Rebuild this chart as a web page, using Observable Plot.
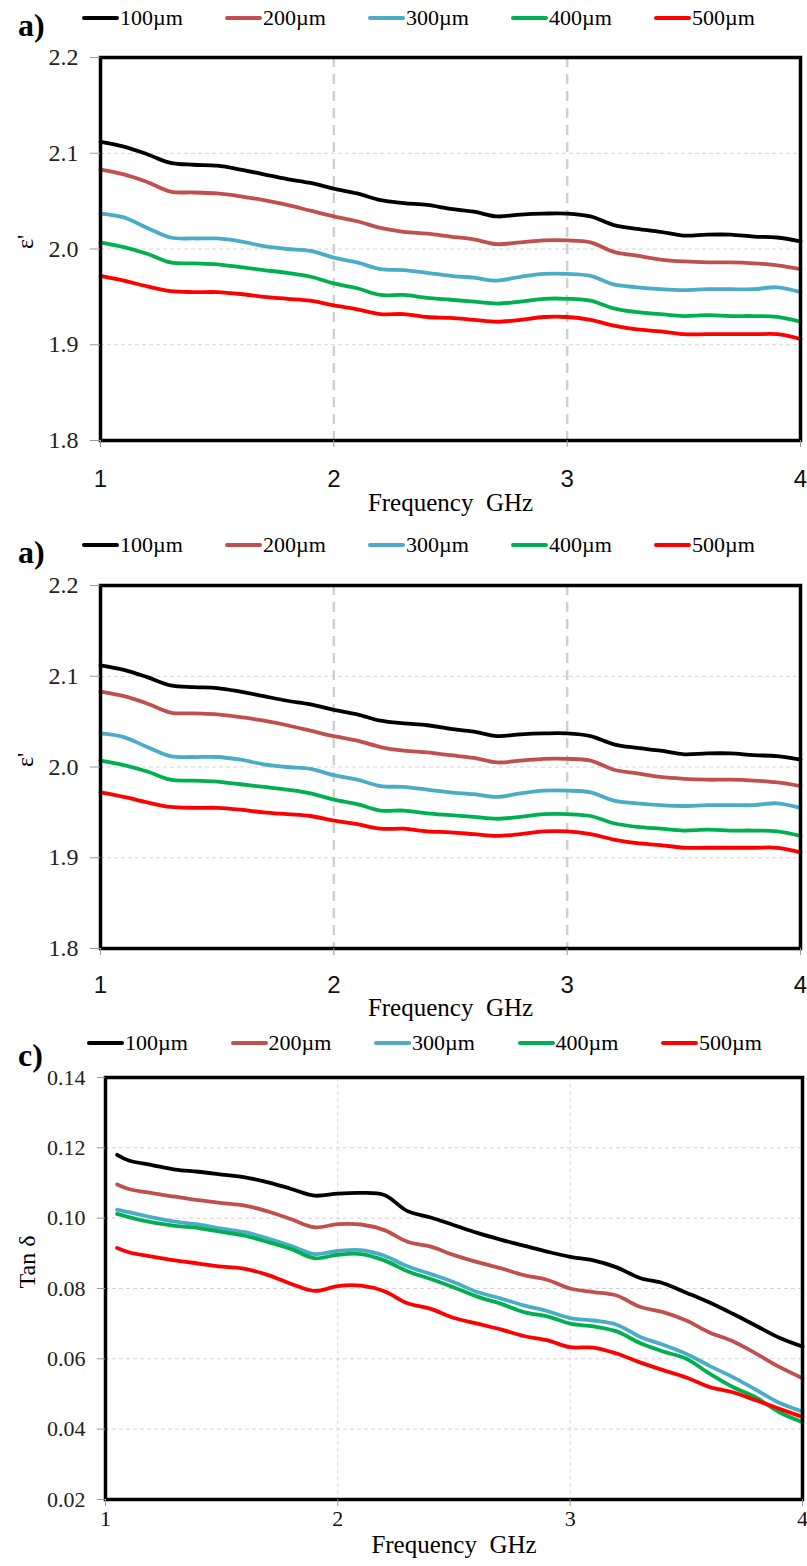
<!DOCTYPE html>
<html><head><meta charset="utf-8">
<script src="https://cdn.jsdelivr.net/npm/d3@7"></script>
<script src="https://cdn.jsdelivr.net/npm/@observablehq/plot@0.6"></script>
<style>
body{margin:0;background:#fff;}
#root{position:relative;width:807px;height:1566px;overflow:hidden;font-family:"Liberation Serif","Times New Roman",serif;color:#000;}
.sw{position:absolute;height:4px;width:37px;border-radius:2px;}
.lt{position:absolute;font-size:22px;line-height:26px;white-space:nowrap;}
.pl{position:absolute;font-size:32px;font-weight:bold;line-height:36px;}
</style>
</head><body><div id="root"></div>
<script>
// ---------- data ----------
const seriesNames = ["100µm","200µm","300µm","400µm","500µm"];
const seriesColors = ["#000000","#c0504d","#4bacc6","#00b050","#ff0000"];
const freqTicks = [1,2,3,4];
const epsTicks = [1.8,1.9,2.0,2.1,2.2];
const tanTicks = [0.02,0.04,0.06,0.08,0.10,0.12,0.14];

const freqA = [1.0,1.1,1.2,1.3,1.4,1.5,1.6,1.7,1.8,1.9,2.0,2.1,2.2,2.3,2.4,2.5,2.6,2.7,2.8,2.9,3.0,3.1,3.2,3.3,3.4,3.5,3.6,3.7,3.8,3.9,4.0];
const eps100 = [2.112,2.107,2.099,2.090,2.088,2.087,2.083,2.078,2.073,2.069,2.063,2.058,2.051,2.048,2.046,2.042,2.039,2.034,2.036,2.037,2.037,2.034,2.025,2.021,2.018,2.014,2.015,2.015,2.013,2.012,2.008];
const eps200 = [2.083,2.078,2.070,2.060,2.059,2.058,2.055,2.051,2.046,2.040,2.034,2.029,2.022,2.018,2.016,2.013,2.010,2.005,2.007,2.009,2.009,2.007,1.997,1.993,1.989,1.987,1.986,1.986,1.985,1.983,1.979];
const eps300 = [2.037,2.033,2.022,2.012,2.011,2.011,2.008,2.003,2.000,1.998,1.991,1.986,1.979,1.978,1.975,1.972,1.970,1.967,1.971,1.974,1.974,1.972,1.963,1.960,1.958,1.957,1.958,1.958,1.958,1.960,1.955];
const eps400 = [2.007,2.002,1.995,1.986,1.985,1.984,1.981,1.978,1.975,1.971,1.964,1.959,1.952,1.952,1.949,1.947,1.945,1.943,1.945,1.948,1.948,1.946,1.938,1.934,1.932,1.930,1.931,1.930,1.930,1.929,1.924];
const eps500 = [1.972,1.967,1.961,1.956,1.955,1.955,1.953,1.950,1.948,1.946,1.941,1.937,1.932,1.932,1.929,1.928,1.926,1.924,1.926,1.929,1.929,1.926,1.920,1.916,1.914,1.911,1.911,1.911,1.911,1.911,1.906];

const freqC = [1.05,1.1,1.2,1.3,1.4,1.5,1.6,1.7,1.8,1.9,2.0,2.1,2.2,2.3,2.4,2.5,2.6,2.7,2.8,2.9,3.0,3.1,3.2,3.3,3.4,3.5,3.6,3.7,3.8,3.9,4.0];
const tan100 = [0.1180,0.1164,0.1151,0.1138,0.1132,0.1124,0.1116,0.1102,0.1083,0.1064,0.1070,0.1072,0.1066,0.1020,0.1002,0.0980,0.0958,0.0939,0.0922,0.0905,0.0890,0.0880,0.0860,0.0830,0.0815,0.0788,0.0760,0.0728,0.0694,0.0660,0.0635];
const tan200 = [0.1096,0.1083,0.1071,0.1061,0.1051,0.1043,0.1036,0.1019,0.0997,0.0974,0.0983,0.0982,0.0966,0.0933,0.0919,0.0895,0.0875,0.0858,0.0838,0.0825,0.0800,0.0790,0.0780,0.0748,0.0733,0.0709,0.0675,0.0650,0.0615,0.0577,0.0545];
const tan300 = [0.1024,0.1017,0.1002,0.0990,0.0982,0.0970,0.0960,0.0942,0.0921,0.0898,0.0907,0.0909,0.0893,0.0863,0.0841,0.0818,0.0790,0.0772,0.0752,0.0736,0.0716,0.0709,0.0697,0.0663,0.0640,0.0614,0.0580,0.0548,0.0512,0.0475,0.0450];
const tan400 = [0.1012,0.1003,0.0988,0.0978,0.0972,0.0961,0.0950,0.0932,0.0912,0.0886,0.0896,0.0898,0.0880,0.0849,0.0827,0.0803,0.0777,0.0757,0.0733,0.0721,0.0700,0.0692,0.0678,0.0645,0.0621,0.0600,0.0558,0.0520,0.0490,0.0448,0.0420];
const tan500 = [0.0915,0.0903,0.0891,0.0880,0.0871,0.0862,0.0856,0.0838,0.0813,0.0793,0.0807,0.0808,0.0792,0.0758,0.0742,0.0716,0.0700,0.0684,0.0665,0.0653,0.0633,0.0632,0.0615,0.0590,0.0568,0.0547,0.0520,0.0505,0.0482,0.0458,0.0435];

// ---------- helpers ----------
const SERIF = '"Liberation Serif","Times New Roman",serif';
const NARROW = '"Liberation Sans Narrow","Liberation Sans",sans-serif';

function tidy(freq, arrays){
  const out = [];
  arrays.forEach((arr,i)=>arr.forEach((v,j)=>out.push({f:freq[j], v, s:seriesNames[i]})));
  return out;
}
const epsData = tidy(freqA,[eps100,eps200,eps300,eps400,eps500]);
const tanData = tidy(freqC,[tan100,tan200,tan300,tan400,tan500]);

const root = document.getElementById("root");

function legend(cfg){
  const lab = document.createElement("div");
  lab.className = "pl"; lab.textContent = cfg.tag;
  lab.style.left = cfg.tagX + "px"; lab.style.top = (cfg.tagY - 18) + "px";
  root.appendChild(lab);
  seriesNames.forEach((name,i)=>{
    const x = cfg.x0 + i*cfg.step;
    const sw = document.createElement("div");
    sw.className = "sw"; sw.style.background = seriesColors[i];
    sw.style.left = x + "px"; sw.style.top = (cfg.y - 2) + "px";
    root.appendChild(sw);
    const t = document.createElement("div");
    t.className = "lt"; t.textContent = name;
    t.style.left = (x + 38) + "px"; t.style.top = (cfg.y - 13) + "px";
    root.appendChild(t);
  });
}

function panel(cfg){
  const svg = Plot.plot({
    width: 807, height: cfg.height,
    marginTop: cfg.mt, marginBottom: cfg.mb, marginLeft: cfg.ml, marginRight: cfg.mr,
    style: {fontFamily: SERIF, fontSize: "22px", background: "transparent", color: "#000", overflow: "visible"},
    x: {domain: [1,4]},
    y: {domain: cfg.yDomain},
    color: {domain: seriesNames, range: seriesColors},
    marks: [
      Plot.ruleY(cfg.hgrid, {stroke: "#d4d4d4", strokeWidth: 1, strokeDasharray: "4,3"}),
      Plot.ruleX([2,3], {stroke: cfg.vStroke, strokeWidth: cfg.vWidth, strokeDasharray: cfg.vDash}),
      Plot.line(cfg.data, {x: "f", y: "v", stroke: "s", strokeWidth: 3.8, curve: "catmull-rom", strokeLinejoin: "round", strokeLinecap: "round"}),
      Plot.frame({stroke: "#000", strokeWidth: 3.5}),
      Plot.axisY({ticks: cfg.yTicks, tickFormat: cfg.yFormat, tickSize: cfg.yTickSize, tickPadding: cfg.yTickPad, stroke: "#999", label: null, fontSize: cfg.yFont, fontFamily: SERIF, fill: "#222"}),
      Plot.axisX({ticks: freqTicks, tickFormat: d3.format("d"), tickSize: 7, tickPadding: cfg.xTickPad, stroke: "#999", label: null, fontSize: cfg.xFont, fontFamily: cfg.xFamily, fill: "#111"}),
      Plot.text(["Frequency\u00a0\u00a0GHz"], {text: d => d, frameAnchor: "bottom", dy: cfg.titleDy, fontSize: 25, fontFamily: SERIF}),
      Plot.text([cfg.yTitle], {text: d => d, frameAnchor: "left", dx: cfg.yTitleDx, rotate: -90, fontSize: 24, fontFamily: SERIF})
    ]
  });
  svg.style.position = "absolute";
  svg.style.left = "0px";
  svg.style.top = cfg.top + "px";
  root.appendChild(svg);
}

// ---------- panel a (top) ----------
panel({top: 37, height: 493, mt: 20, mb: 90, ml: 100, mr: 7,
  yDomain: [1.8,2.2], yTicks: epsTicks, yFormat: d3.format(".1f"), hgrid: [1.9,2.0,2.1],
  vStroke: "#d0d0d0", vWidth: 2.5, vDash: "10,7",
  yTickSize: 10, yTickPad: 12, yFont: 24, xTickPad: 22, xFont: 24, xFamily: NARROW,
  titleDy: 70, yTitle: "\u03b5'", yTitleDx: -75, data: epsData});
legend({tag: "a)", tagX: 18, tagY: 25, x0: 82, step: 143, y: 18});

// ---------- panel a (middle) ----------
panel({top: 565, height: 473, mt: 20, mb: 90, ml: 100, mr: 7,
  yDomain: [1.8,2.2], yTicks: epsTicks, yFormat: d3.format(".1f"), hgrid: [1.9,2.0,2.1],
  vStroke: "#d0d0d0", vWidth: 2.5, vDash: "10,7",
  yTickSize: 10, yTickPad: 12, yFont: 24, xTickPad: 20, xFont: 24, xFamily: NARROW,
  titleDy: 67, yTitle: "\u03b5'", yTitleDx: -75, data: epsData});
legend({tag: "a)", tagX: 18, tagY: 552, x0: 82, step: 143, y: 545});

// ---------- panel c (bottom) ----------
panel({top: 1057, height: 509, mt: 20, mb: 67, ml: 105, mr: 5,
  yDomain: [0.02,0.14], yTicks: tanTicks, yFormat: d3.format(".2f"), hgrid: [0.04,0.06,0.08,0.10,0.12],
  vStroke: "#d9d9d9", vWidth: 1, vDash: "4,3",
  yTickSize: 8, yTickPad: 12, yFont: 22, xTickPad: 4, xFont: 22, xFamily: SERIF,
  titleDy: 53, yTitle: "Tan \u03b4", yTitleDx: -78, data: tanData});
legend({tag: "c)", tagX: 18, tagY: 1055, x0: 87, step: 143.5, y: 1043});
</script>
</body></html>
